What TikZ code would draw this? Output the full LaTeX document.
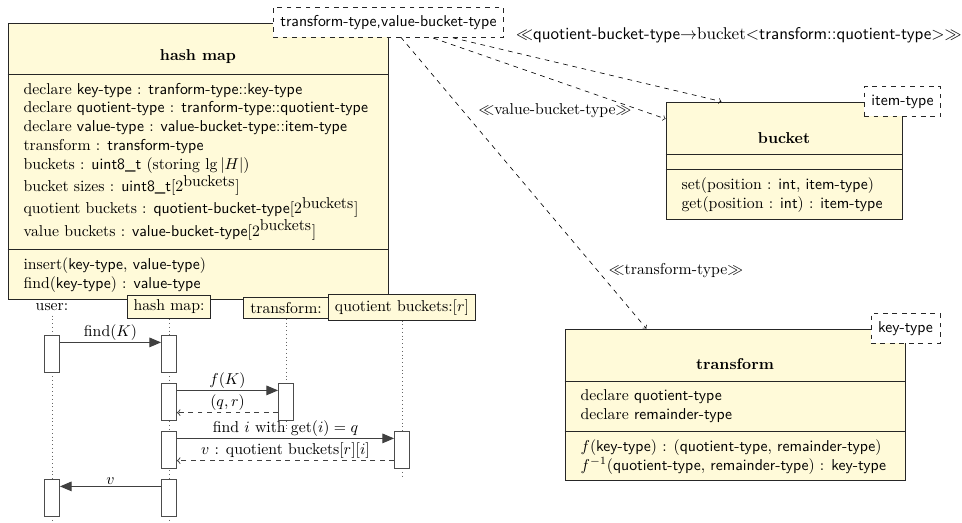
\documentclass[tikz,border=0pt]{standalone}
\usepackage{amsmath}
\usepackage{amssymb}
\usepackage{xcolor}
\usepackage{tikz}
\usetikzlibrary{shapes.geometric, arrows, positioning, fit}

\definecolor{umlfill}{RGB}{255,250,217}

\begin{document}
\begin{tikzpicture}[
    x=0.635pt, y=0.635pt,
    classbox/.style={rectangle, draw=black!85, fill=umlfill, line width=0.6pt, inner sep=0pt},
    template/.style={rectangle, draw=black!85, dashed, fill=white, inner xsep=4.5pt, inner ysep=4pt, minimum height=19pt, font=\sffamily},
    members/.style={align=left, anchor=north west, inner xsep=10pt, inner ysep=5.5pt},
    classname/.style={font=\bfseries},
    compart/.style={draw=black!85, line width=0.6pt},
    depend/.style={->, dashed, black},
    stereo/.style={inner sep=0pt},
    seqhead/.style={rectangle, draw=black!85, fill=umlfill, inner xsep=4pt, inner ysep=3pt, line width=0.6pt},
    act/.style={rectangle, draw=black!70, fill=white, minimum width=9.5pt, minimum height=23.5pt, inner sep=0pt, line width=0.6pt},
    lifeline/.style={dotted, black!60},
    msgcall/.style={->, >=triangle 45, black!75, line width=0.7pt},
    msgreply/.style={->, dashed, black!75, line width=0.6pt},
    msglabel/.style={above, inner sep=1pt, text=black}
]
\useasboundingbox (0,0) rectangle (962,-522);

% classes
\node[classbox, fit={(8,-23) (388,-299)}] (hashmap) {};
\node[classbox, fit={(666,-102) (902,-219)}] (bucket) {};
\node[classbox, fit={(565,-329) (905,-480)}] (transform) {};

\foreach \y in {-74,-249}
    \draw[compart] (hashmap.west |- 0,\y) -- (hashmap.east |- 0,\y);
\foreach \y in {-154,-169}
    \draw[compart] (bucket.west |- 0,\y) -- (bucket.east |- 0,\y);
\foreach \y in {-381,-431}
    \draw[compart] (transform.west |- 0,\y) -- (transform.east |- 0,\y);

\node[classname] (hmname) at (198,-57) {hash map};
\node[members] (hmattr) at (hashmap.west |- 0,-74) {%
    declare \textsf{key-type} : \textsf{tranform-type::key-type}\\
    declare \textsf{quotient-type} : \textsf{tranform-type::quotient-type}\\
    declare \textsf{value-type} : \textsf{value-bucket-type::item-type}\\
    transform : \textsf{transform-type}\\
    buckets : \textsf{uint8\_t} (storing $\lg|H|$)\\
    bucket sizes : \textsf{uint8\_t}$[2^{\mbox{buckets}}]$\\
    quotient buckets : \textsf{quotient-bucket-type}$[2^{\mbox{buckets}}]$\\
    value buckets : \textsf{value-bucket-type}$[2^{\mbox{buckets}}]$};
\node[members] (hmops) at (hashmap.west |- 0,-249) {%
    insert(\textsf{key-type}, \textsf{value-type})\\
    find(\textsf{key-type}) : \textsf{value-type}};

\node[classname] (bkname) at (784,-138) {bucket};
\node[members] (bkops) at (bucket.west |- 0,-169) {%
    set(position : \textsf{int}, \textsf{item-type})\\
    get(position : \textsf{int}) : \textsf{item-type}};

\node[classname] (trname) at (735,-364) {transform};
\node[members] (trattr) at (transform.west |- 0,-381) {%
    declare \textsf{quotient-type}\\
    declare \textsf{remainder-type}};
\node[members] (trops) at (transform.west |- 0,-431) {%
    $f$(\textsf{key-type}) : (\textsf{quotient-type}, \textsf{remainder-type})\\
    $f^{-1}$(\textsf{quotient-type}, \textsf{remainder-type}) : \textsf{key-type}};

% dependencies
\draw[depend] (hashmap.north east) -- ([xshift=35.5pt]bucket.north west);
\draw[depend] (hashmap.north east) -- ([yshift=-11pt]bucket.north west);
\draw[depend] (hashmap.north east) -- ([xshift=52pt]transform.north west);

\node[stereo, anchor=east] (qbstereo) at (962,-35) {\resizebox{283pt}{!}{$\ll$\textsf{quotient-bucket-type}$\rightarrow$bucket$<$\textsf{transform::quotient-type}$>\gg$}};
\node[stereo] (vbstereo) at (555,-111) {$\ll$value-bucket-type$\gg$};
\node[stereo] (trstereo) at (676,-271) {$\ll$transform-type$\gg$};

\node[template] (hmtpl) at (hashmap.north east) {transform-type,value-bucket-type};
\node[template] (bktpl) at (bucket.north east) {item-type};
\node[template] (trtpl) at (transform.north east) {key-type};

% sequence
\coordinate (seqend) at (0,-522);
\node[inner sep=3pt] (userhd) at (52,-307) {user:};
\node[seqhead] (hmhd) at (169,-307) {hash map:};
\node[seqhead] (trhd) at (286,-308) {transform:};
\node[seqhead] (qbhd) at (402,-307.5) {quotient buckets:$[r]$};

\draw[lifeline] (userhd.south) -- (userhd.south |- seqend);
\draw[lifeline] (hmhd.south) -- (hmhd.south |- seqend);
\draw[lifeline] (trhd.south) -- (trhd.south |- 0,-432);
\draw[lifeline] (qbhd.south) -- (qbhd.south |- 0,-478);

\node[act] (u1) at (userhd |- 0,-353.5) {};
\node[act] (hm1) at (hmhd |- 0,-353.5) {};
\node[act] (hm2) at (hmhd |- 0,-401.5) {};
\node[act] (tr1) at (trhd |- 0,-401.5) {};
\node[act] (hm3) at (hmhd |- 0,-449.5) {};
\node[act] (qb1) at (qbhd |- 0,-449.5) {};
\node[act] (u2) at (userhd |- 0,-497.5) {};
\node[act] (hm4) at (hmhd |- 0,-497.5) {};

\draw[msgcall] ([yshift=-5pt]u1.north east) -- node[msglabel] {find$(K)$} ([yshift=-5pt]hm1.north west);
\draw[msgcall] ([yshift=-5pt]hm2.north east) -- node[msglabel] {$f(K)$} ([yshift=-5pt]tr1.north west);
\draw[msgreply] ([yshift=5pt]tr1.south west) -- node[msglabel] {$(q,r)$} ([yshift=5pt]hm2.south east);
\draw[msgcall] ([yshift=-5pt]hm3.north east) -- node[msglabel] {find $i$ with get$(i)=q$} ([yshift=-5pt]qb1.north west);
\draw[msgreply] ([yshift=5pt]qb1.south west) -- node[msglabel] {$v$ : quotient buckets$[r][i]$} ([yshift=5pt]hm3.south east);
\draw[msgcall] ([yshift=-5pt]hm4.north west) -- node[msglabel] {$v$} ([yshift=-5pt]u2.north east);

\end{tikzpicture}
\end{document}
